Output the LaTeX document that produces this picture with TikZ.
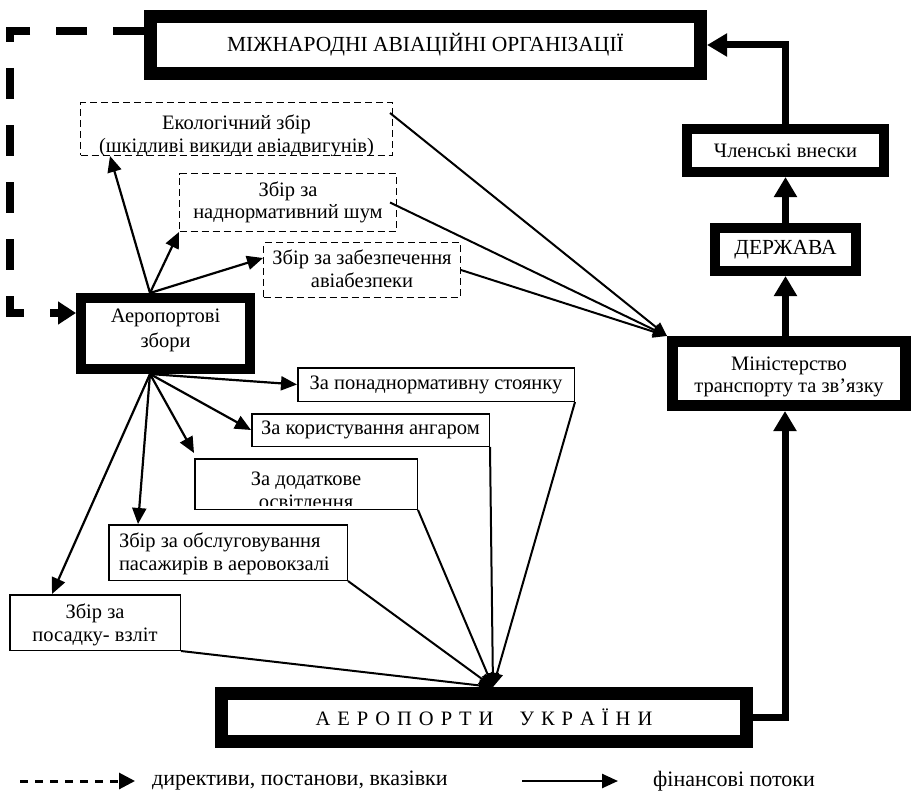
\documentclass[tikz,border=0pt]{standalone}
\usepackage{fontspec}
\setmainfont{Liberation Serif}
\usetikzlibrary{arrows.meta,calc}
\newcommand\lspc{\hspace{7pt}}
\begin{document}
\begin{tikzpicture}[x=1pt,y=-1pt,
  every node/.style={font=\fontsize{20.5}{22.5}\selectfont, align=center, inner sep=0pt},
  bigbox/.style={draw, line width=#1},
  dbox/.style={draw, line width=1.4, dash pattern=on 7pt off 4pt},
  sbox/.style={draw, line width=1.5},
  two/.style={text height=#1, text depth=1pt},
  fin/.style={line width=2.2, -{Triangle[length=16pt,width=14pt]}},
  finb/.style={line width=2, -{Triangle[length=14pt,width=12pt]}},
  big/.style={line width=7, -{Triangle[length=20pt,width=22pt]}},
  dir/.style={line width=8, dash pattern=on 31pt off 26pt, -{Triangle[length=18pt,width=22pt]}},
  inner/.style={draw=none, minimum size=0pt},
  caps/.style={font=\fontsize{21.5}{23}\selectfont},
  legend/.style={font=\fontsize{22}{24}\selectfont, anchor=west}
]
\fill[white] (0,0) rectangle (913,792);
\useasboundingbox (0,0) rectangle (913,792);

% thick boxes
\node[bigbox=13, caps, minimum width=550, minimum height=57] (int) at (425.5,45) {МІЖНАРОДНІ АВІАЦІЙНІ ОРГАНІЗАЦІЇ};
\node[bigbox=10, minimum width=197, minimum height=43] (memb) at (785.5,150.5) {Членські внески};
\node[bigbox=10, caps, minimum width=141, minimum height=43] (state) at (785.5,249.5) {ДЕРЖАВА};
\node[bigbox=11, two=39pt, minimum width=233, minimum height=64] (min) at (789,373.5) {Міністерство\\транспорту та зв’язку};
\node[bigbox=10, two=29pt, minimum width=169, minimum height=71, font=\fontsize{20.5}{25}\selectfont] (fees) at (165.5,333.5) {Аеропортові\\збори};
\node[bigbox=13, minimum width=525, minimum height=48] (ua) at (484,717.5)
  {А\lspc Е\lspc Р\lspc О\lspc П\lspc О\lspc Р\lspc Т\lspc И\hspace{26pt}У\lspc К\lspc Р\lspc А\lspc Ї\lspc Н\lspc И};

% dashed boxes
\node[dbox, minimum width=311.6, minimum height=52.6,
  path picture={\node[inner, yshift=-7pt] at (path picture bounding box.center) {Екологічний збір\\(шкідливі викиди авіадвигунів)};}]
  (ecol) at (236.5,129) {};
\node[dbox, two=33pt, minimum width=216.6, minimum height=57.6] (noise) at (288,202.5) {Збір за\\наднормативний шум};
\node[dbox, two=35pt, minimum width=196.6, minimum height=54.6] (safe) at (362,270) {Збір за забезпечення\\авіабезпеки};

% solid thin boxes
\node[sbox, minimum width=276.5, minimum height=33.5] (park) at (436,384.5) {За понаднормативну стоянку};
\node[sbox, minimum width=237.5, minimum height=32.5] (hangar) at (370.5,430) {За користування ангаром};
\node[sbox, minimum width=222.5, minimum height=50.5,
  path picture={\clip ([yshift=3.5pt]path picture bounding box.south west) rectangle (path picture bounding box.north east);
    \node[inner, yshift=-6.5pt] at (path picture bounding box.center) {За додаткове\\освітлення};}]
  (light) at (306,484) {};
\node[sbox, text height=10pt, text depth=20pt, minimum width=238.5, minimum height=55.5, text width=218, align=flush left] (pass) at (228,552.5) {Збір за обслуговування\\пасажирів в аеровокзалі};
\node[sbox, two=38pt, minimum width=170.5, minimum height=55.5] (land) at (95,622.5) {Збір за\\посадку- взліт};

% directive (dashed) connector
\coordinate (c1) at (10,31);
\coordinate (c2) at (10,313);
\draw[dir] ([yshift=14pt]int.west) -- (c1) -- (c2) -- ([yshift=20.5pt]fees.west);

% thick financial flow on the right
\draw[big] (ua.east) -| ([xshift=-4pt]min.south);
\draw[big] (min.north -| state.south) -- (state.south);
\draw[big] (state.north) -- (memb.south);
\draw[big] (memb.north) |- (int.east);

% from airport fees upwards
\coordinate (ft) at ([xshift=-15.5pt]fees.north);
\draw[fin] (ft) -- ([xshift=30pt]ecol.south west);
\draw[fin] (ft) -- (noise.south west);
\draw[fin] (ft) -- ([yshift=12pt]safe.west);

% from airport fees downwards
\coordinate (fb) at ([xshift=-15.5pt]fees.south);
\draw[fin] (fb) -- (park.west);
\draw[fin] (fb) -- (hangar.west);
\draw[fin] (fb) -- ([yshift=5pt]light.north west);
\draw[fin] (fb) -- ([xshift=30pt]pass.north west);
\draw[fin] (fb) -- ([xshift=43pt]land.north west);

% dashed boxes to ministry
\draw[finb] ([xshift=-3pt,yshift=16pt]ecol.east) -- (min.north west);
\draw[finb] ([xshift=-7pt]noise.east) -- (min.north west);
\draw[finb] (safe.east) -- (min.north west);

% solid boxes to airports of Ukraine
\coordinate (ut) at ([xshift=9pt]ua.north);
\draw[finb] (park.south east) -- (ut);
\draw[finb] (hangar.south east) -- (ut);
\draw[finb] (light.south east) -- (ut);
\draw[finb] (pass.south east) -- (ut);
\draw[finb] (land.south east) -- (ut);

% legend
\coordinate (la) at (20,781);
\coordinate (lb) at (135,781);
\draw[line width=3, dash pattern=on 8pt off 7pt, -{Triangle[length=16pt,width=16pt]}] (la) -- (lb);
\node[legend] (ld) at (152,781) {директиви, постанови, вказівки};
\coordinate (lc) at (522,781);
\coordinate (le) at (618,781);
\draw[line width=2.5, -{Triangle[length=16pt,width=14pt]}] (lc) -- (le);
\node[legend] (lf) at (653,781) {фінансові потоки};
\end{tikzpicture}
\end{document}
